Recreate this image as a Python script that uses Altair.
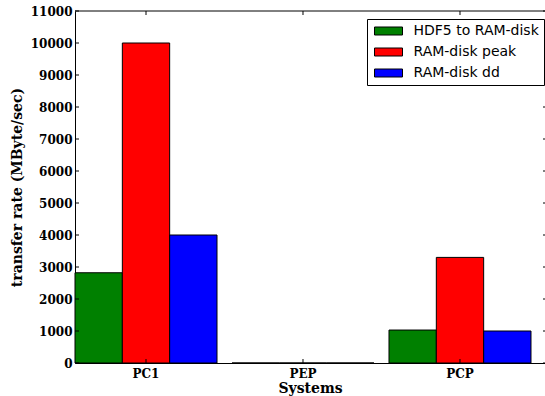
import altair as alt
import pandas as pd

systems = ["PC1", "PEP", "PCP"]
series = ["HDF5 to RAM-disk", "RAM-disk peak", "RAM-disk dd"]
hdf5_to_ramdisk = [2820, 0, 1030]
ramdisk_peak = [10000, 0, 3300]
ramdisk_dd = [4000, 0, 1000]
colors = ["#008000", "#ff0000", "#0000ff"]
y_ticks = list(range(0, 11001, 1000))

rows = []
for s, vals in zip(series, [hdf5_to_ramdisk, ramdisk_peak, ramdisk_dd]):
    for sys_, v in zip(systems, vals):
        rows.append({"system": sys_, "series": s, "value": v})
df = pd.DataFrame(rows)
ytick_df = pd.DataFrame({"value": y_ticks})
xtick_df = pd.DataFrame({"system": systems})

W, H = 470, 352
x_scale = alt.Scale(domain=systems, paddingInner=0.0955, paddingOuter=0.0446, align=0)
y_scale = alt.Scale(domain=[0, 11000], nice=False, zero=True)
x_axis = alt.Axis(title="Systems", labelAngle=0, labelPadding=5, titlePadding=2)
y_axis = alt.Axis(title="transfer rate (MByte/sec)", values=y_ticks, tickCount=12, format="d",
                  labelOverlap=False, labelPadding=3, titlePadding=6)

bars = alt.Chart(df).mark_bar(stroke="black", strokeWidth=1).encode(
    x=alt.X("system:N", scale=x_scale, axis=x_axis),
    xOffset=alt.XOffset("series:N", scale=alt.Scale(domain=series, paddingInner=0, paddingOuter=0)),
    y=alt.Y("value:Q", scale=y_scale, axis=y_axis),
    color=alt.Color("series:N", scale=alt.Scale(domain=series, range=colors),
                    legend=alt.Legend(title=None, orient="none", legendX=292, legendY=8,
                                      symbolType="M-3.5,-1H3.5V1H-3.5Z", symbolSize=64,
                                      symbolStrokeColor="black", symbolStrokeWidth=1,
                                      symbolOffset=9.5, labelOffset=18,
                                      labelFont="DejaVu Sans", labelFontSize=14,
                                      labelColor="black", labelLimit=300,
                                      rowPadding=7, padding=5,
                                      strokeColor="black", fillColor="white",
                                      cornerRadius=0)),
)

left_ticks = alt.Chart(ytick_df).mark_rule(color="black", strokeWidth=1).encode(
    y=alt.Y("value:Q", scale=y_scale, axis=y_axis), x=alt.value(0), x2=alt.value(4))
right_ticks = alt.Chart(ytick_df).mark_rule(color="black", strokeWidth=1).encode(
    y=alt.Y("value:Q", scale=y_scale, axis=y_axis), x=alt.value(W - 2), x2=alt.value(W))
bottom_ticks = alt.Chart(xtick_df).mark_rule(color="black", strokeWidth=1).encode(
    x=alt.X("system:N", scale=x_scale, axis=x_axis, bandPosition=0.5), y=alt.value(H - 4), y2=alt.value(H))
top_ticks = alt.Chart(xtick_df).mark_rule(color="black", strokeWidth=1).encode(
    x=alt.X("system:N", scale=x_scale, axis=x_axis, bandPosition=0.5), y=alt.value(0), y2=alt.value(4))
top_border = alt.Chart(pd.DataFrame({"a": [0]})).mark_rule(color="black", strokeWidth=1).encode(
    x=alt.value(0), x2=alt.value(W), y=alt.value(0))

chart = alt.layer(bars, left_ticks, right_ticks, bottom_ticks, top_ticks, top_border).properties(
    width=W, height=H,
    padding={"left": 75, "top": 11, "right": 0, "bottom": 33},
    autosize=alt.AutoSizeParams(type="none"),
    background="white",
).configure_view(stroke=None).configure_axis(
    grid=False, ticks=False, domainColor="black", domainWidth=1,
    labelFont="DejaVu Serif", labelFontWeight="bold", labelFontSize=12, labelColor="black",
    titleFont="DejaVu Serif", titleFontWeight="bold", titleFontSize=14, titleColor="black",
)

chart.save("out.html", embed_options={"renderer": "svg", "actions": False})
